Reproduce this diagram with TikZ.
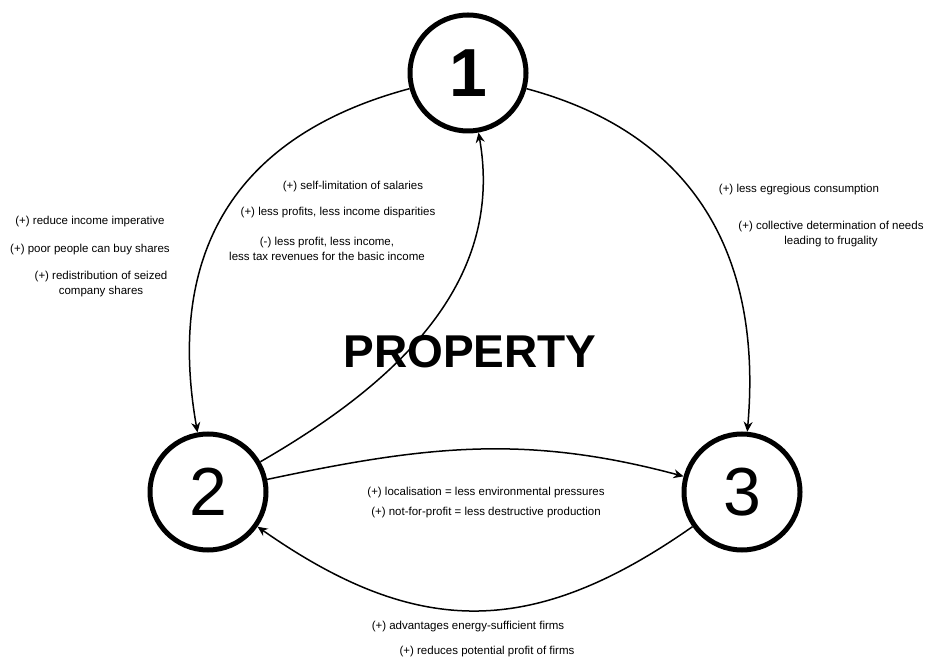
\documentclass[tikz,border=0pt]{standalone}
\usepackage{fontspec}
\setmainfont{Liberation Sans}
\usetikzlibrary{arrows.meta}
\usetikzlibrary{positioning}
\tikzstyle{stage}=[circle,draw=black,line width=5pt,minimum size=116pt,inner sep=0pt,font=\fontsize{68}{68}\selectfont]
\tikzstyle{link}=[-{Stealth[length=10pt,width=9pt]},line width=1.5pt]
\tikzstyle{effect}=[font=\fontsize{11.5}{14.5}\selectfont,align=center,inner sep=0pt]

\begin{document}
\begin{tikzpicture}[x=1pt,y=1pt]
\useasboundingbox (0,0) rectangle (932,659);

%stages
    \foreach \pos/\name/\label in {{(468,586)/n1/\textbf{1}}, {(208,167)/n2/2}, {(742,167)/n3/3}}
        \node[stage] (\name) at \pos {\label};

%links
  \foreach \source/\dest/\o/\i/\l in {n1/n2/195/100/1.15, n2/n1/30/-80/1, n1/n3/-15/85/1.1, n2/n3/12/165/1, n3/n2/215/-35/1.15}
          \draw[link] (\source) to[out=\o,in=\i,looseness=\l] (\dest);

%1 -> 2
\node[effect] (a1) at (90,437) {(+) reduce income imperative};
\node[effect] (a2) at (90,409) {(+) poor people can buy shares};
\node[effect] (a3) at (101,375) {(+) redistribution of seized\\company shares};

%2 -> 1
\node[effect] (b1) at (353,472) {(+) self-limitation of salaries};
\node[effect] (b2) at (338,446) {(+) less profits, less income disparities};
\node[effect] (b3) at (327,410) {(-) less profit, less income,\\less tax revenues for the basic income};

%1 -> 3
\node[effect] (c1) at (799,469) {(+) less egregious consumption};
\node[effect] (c2) at (831,425) {(+) collective determination of needs\\leading to frugality};

%2 -> 3
\node[effect] (d1) at (486,166) {(+) localisation = less environmental pressures};
\node[effect] (d2) at (486,146) {(+) not-for-profit = less destructive production};

%3 -> 2
\node[effect] (e1) at (468,32) {(+) advantages energy-sufficient firms};
\node[effect] (e2) at (487,7) {(+) reduces potential profit of firms};

\node[font=\fontsize{46}{46}\selectfont\bfseries] (title) at (470,307) {PROPERTY};

   \end{tikzpicture}
\end{document}
